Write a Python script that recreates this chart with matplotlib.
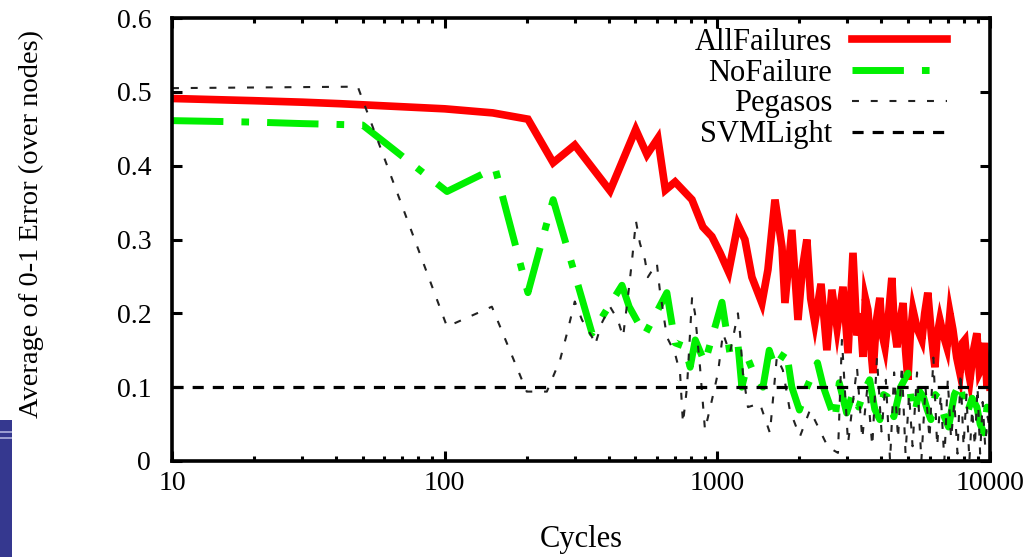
import matplotlib
matplotlib.use("Agg")
import matplotlib.pyplot as plt
from matplotlib.patches import Rectangle
from matplotlib.ticker import FixedLocator, FixedFormatter, LogLocator, NullFormatter

plt.rcParams['font.family'] = 'serif'
plt.rcParams['font.serif'] = ['Liberation Serif', 'DejaVu Serif']
plt.rcParams['lines.scale_dashes'] = False

# ---------------- data ----------------
all_x = [10, 20, 30, 41, 60, 100, 150, 202, 250, 300, 404, 502, 552, 605, 645, 700,
         807, 885, 955, 1023, 1100, 1189, 1262, 1339, 1457, 1533, 1627, 1726, 1770,
         1876, 1976, 2050, 2130, 2200, 2278, 2400, 2522, 2631, 2750, 2890, 3016, 3144,
         3250, 3340, 3420, 3490, 3565, 3640, 3724, 3830, 3945, 4030, 4120, 4250, 4365,
         4460, 4560, 4680, 4800, 4900, 5000, 5100, 5215, 5400, 5625, 5760, 5915, 6100,
         6280, 6400, 6550, 6750, 6950, 7130, 7310, 7550, 7760, 7930, 8090, 8250, 8440,
         8700, 8950, 9150, 9340, 9550, 9750, 9900, 10000]
all_y = [0.491, 0.488, 0.486, 0.484, 0.481, 0.477, 0.4715, 0.463, 0.404, 0.428, 0.366,
         0.449, 0.415, 0.437, 0.367, 0.378, 0.354, 0.317, 0.304, 0.282, 0.256, 0.320,
         0.300, 0.249, 0.214, 0.259, 0.354, 0.290, 0.214, 0.313, 0.191, 0.260, 0.300,
         0.220, 0.187, 0.240, 0.150, 0.232, 0.180, 0.236, 0.146, 0.282, 0.170, 0.200,
         0.141, 0.220, 0.205, 0.160, 0.119, 0.190, 0.221, 0.170, 0.154, 0.200, 0.248,
         0.180, 0.154, 0.190, 0.214, 0.150, 0.110, 0.170, 0.205, 0.180, 0.164, 0.200,
         0.228, 0.170, 0.127, 0.170, 0.191, 0.170, 0.154, 0.200, 0.178, 0.140, 0.119,
         0.160, 0.164, 0.130, 0.110, 0.150, 0.173, 0.120, 0.127, 0.160, 0.100, 0.140,
         0.100]

nof_x = [10, 20, 30, 50, 102, 153, 202, 250, 347, 447, 475, 542, 653, 700, 760, 795,
         830, 900, 1040, 1112, 1189, 1230, 1300, 1360, 1470, 1550, 1627, 1790, 1876,
         2000, 2130, 2330, 2450, 2700, 2800, 2980, 3140, 3300, 3460, 3620, 3780, 3945,
         4070, 4200, 4320, 4440, 4700, 5000, 5150, 5300, 5500, 5700, 5880, 6070, 6300,
         6550, 6800, 7050, 7400, 7760, 8000, 8250, 8600, 8950, 9200, 9500, 9750, 10000]
nof_y = [0.461, 0.459, 0.457, 0.455, 0.365, 0.397, 0.228, 0.354, 0.173, 0.238, 0.209,
         0.171, 0.228, 0.160, 0.155, 0.127, 0.164, 0.133, 0.215, 0.146, 0.160, 0.100,
         0.137, 0.119, 0.100, 0.150, 0.127, 0.150, 0.100, 0.069, 0.100, 0.133, 0.100,
         0.056, 0.106, 0.065, 0.092, 0.073, 0.095, 0.110, 0.070, 0.056, 0.090, 0.087,
         0.070, 0.060, 0.100, 0.119, 0.080, 0.065, 0.095, 0.087, 0.070, 0.056, 0.090,
         0.083, 0.060, 0.046, 0.090, 0.106, 0.080, 0.065, 0.085, 0.073, 0.050, 0.038,
         0.073, 0.060]

peg_x = [10, 48, 102, 149, 200, 237, 265, 281, 300, 319, 347, 356, 377, 404, 432, 451,
         470, 486, 503, 520, 543, 556, 600, 615, 653, 699, 730, 748, 774, 808, 828, 864,
         901, 956, 1005, 1049, 1112, 1190, 1211, 1241, 1295, 1432, 1559, 1653, 1739,
         1844, 2008, 2186, 2544, 2770, 2864, 3016, 3252, 3400, 3550, 3700, 3850, 4000,
         4150, 4300, 4450, 4600, 4750, 4900, 5050, 5200, 5400, 5600, 5800, 6000, 6200,
         6400, 6600, 6800, 7000, 7200, 7400, 7600, 7800, 8000, 8200, 8400, 8600, 8800,
         9000, 9200, 9400, 9600, 9800, 10000]
peg_y = [0.505, 0.507, 0.182, 0.209, 0.094, 0.094, 0.137, 0.173, 0.216, 0.191, 0.168,
         0.157, 0.187, 0.209, 0.191, 0.168, 0.222, 0.270, 0.325, 0.295, 0.272, 0.249,
         0.268, 0.232, 0.168, 0.146, 0.119, 0.051, 0.100, 0.222, 0.200, 0.127, 0.042,
         0.083, 0.119, 0.173, 0.146, 0.200, 0.173, 0.119, 0.073, 0.078, 0.038, 0.141,
         0.123, 0.069, 0.033, 0.069, 0.019, 0.011, 0.164, 0.024, 0.127, 0.030, 0.100,
         0.020, 0.140, 0.040, 0.110, 0.000, 0.120, 0.030, 0.130, 0.010, 0.090, 0.020,
         0.120, 0.000, 0.100, 0.030, 0.140, 0.020, 0.090, 0.000, 0.110, 0.030, 0.080,
         0.010, 0.120, 0.020, 0.090, 0.000, 0.070, 0.020, 0.100, 0.010, 0.080, 0.020,
         0.060, 0.040]

svm_x = [10, 10000]
svm_y = [0.1, 0.1]

labels = ["AllFailures", "NoFailure", "Pegasos", "SVMLight"]
xtick_vals = [10, 100, 1000, 10000]
xtick_labels = ["10", "100", "1000", "10000"]
ytick_vals = [0, 0.1, 0.2, 0.3, 0.4, 0.5, 0.6]
ytick_labels = ["0", "0.1", "0.2", "0.3", "0.4", "0.5", "0.6"]

# ---------------- figure ----------------
fig = plt.figure(figsize=(10.36, 5.57), dpi=100)
ax = fig.add_axes([172 / 1036, 96 / 557, 818 / 1036, 443 / 557])

ax.plot(all_x, all_y, color='#ff0000', lw=5.5, solid_joinstyle='miter', label=labels[0])
ax.plot(nof_x, nof_y, color='#00f000', lw=5.0, dashes=(37, 13, 5.5, 13),
        dash_capstyle='butt', label=labels[1])
ax.plot(peg_x, peg_y, color='#222222', lw=1.5, dashes=(5, 8.5), label=labels[2])
ax.plot(svm_x, svm_y, color='black', lw=2.3, dashes=(8, 6.5), label=labels[3])

ax.set_xscale('log')
ax.set_xlim(10, 10000)
ax.set_ylim(0, 0.6)
ax.xaxis.set_major_locator(FixedLocator(xtick_vals))
ax.xaxis.set_major_formatter(FixedFormatter(xtick_labels))
ax.xaxis.set_minor_locator(LogLocator(base=10, subs=range(2, 10)))
ax.xaxis.set_minor_formatter(NullFormatter())
ax.yaxis.set_major_locator(FixedLocator(ytick_vals))
ax.yaxis.set_major_formatter(FixedFormatter(ytick_labels))

for s in ax.spines.values():
    s.set_linewidth(2.6)
ax.tick_params(which='major', direction='in', length=7, width=2.2, top=True, right=True,
               labelsize=20)
ax.tick_params(axis='y', which='major', pad=15)
ax.tick_params(axis='x', which='major', pad=7)
ax.tick_params(which='minor', direction='in', length=3.6, width=2.2, top=True, right=True)

ax.set_xlabel("Cycles", fontsize=22)
ax.xaxis.set_label_coords(0.5, -0.145)
ax.set_ylabel("Average of 0-1 Error (over nodes)", fontsize=20.5)
ax.yaxis.set_label_coords(-0.156, 0.535)

leg = ax.legend(loc='upper right', bbox_to_anchor=(0.947, 0.978), frameon=False,
                markerfirst=False, fontsize=22, handlelength=3.1, handletextpad=0.65,
                labelspacing=0.06, borderpad=0, borderaxespad=0)

# slide artifact: blue bar at bottom-left with light stripes at its top
fig.patches.append(Rectangle((0, 0), 12 / 1036, 137 / 557, transform=fig.transFigure,
                             facecolor='#35388f', edgecolor='none', zorder=-1))
for yy in (124 / 557, 118 / 557):
    fig.patches.append(Rectangle((0, yy), 12 / 1036, 2 / 557, transform=fig.transFigure,
                                 facecolor='#9a9cd0', edgecolor='none', zorder=-1))

fig.savefig("out.png", dpi=100)
